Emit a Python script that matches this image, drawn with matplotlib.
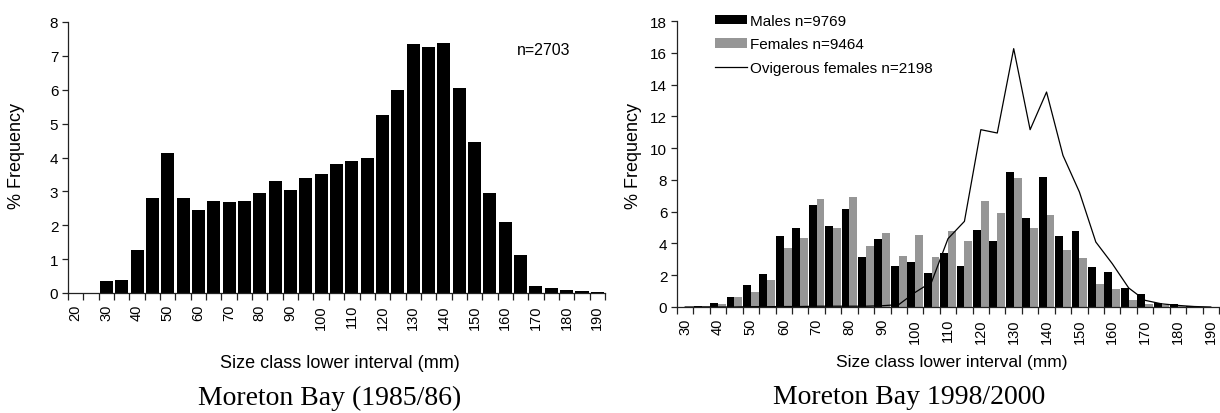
import matplotlib
matplotlib.use("Agg")
import matplotlib.pyplot as plt
from matplotlib.patches import Patch
from matplotlib.lines import Line2D

# Size classes (lower bound of each 5 mm interval)
size_1985 = list(range(20, 195, 5))
size_1998 = list(range(30, 195, 5))

# Moreton Bay 1985/86, % frequency per size class (n=2703)
pct_1985 = [0, 0, 0.34, 0.38, 1.27, 2.80, 4.12, 2.80, 2.46, 2.72, 2.69, 2.72,
            2.94, 3.32, 3.05, 3.39, 3.50, 3.80, 3.90, 3.98, 5.24, 5.98, 7.36,
            7.27, 7.39, 6.05, 4.45, 2.94, 2.09, 1.12, 0.20, 0.16, 0.09, 0.05,
            0.04]

# Moreton Bay 1998/2000, % frequency per size class
males = [0, 0.09, 0.23, 0.66, 1.37, 2.10, 4.46, 5.00, 6.45, 5.07, 6.15, 3.14,
         4.27, 2.55, 2.86, 2.11, 3.37, 2.56, 4.82, 4.17, 8.47, 5.62, 8.20, 4.49,
         4.80, 2.54, 2.22, 1.22, 0.84, 0.27, 0.17, 0.06, 0]
females = [0, 0.07, 0.16, 0.66, 0.97, 1.68, 3.69, 4.33, 6.78, 5.00, 6.91, 3.81,
           4.63, 3.24, 4.51, 3.12, 4.76, 4.17, 6.65, 5.94, 8.14, 4.99, 5.81,
           3.61, 3.10, 1.47, 1.11, 0.46, 0.19, 0.10, 0.06, 0.02, 0]
ovigerous = [0, 0, 0, 0, 0.02, 0.02, 0.03, 0.03, 0.05, 0.05, 0.05, 0.05, 0.08,
             0.15, 0.92, 1.57, 4.30, 5.39, 11.16, 10.95, 16.26, 11.16, 13.53,
             9.54, 7.24, 4.09, 2.73, 1.20, 0.42, 0.20, 0.10, 0.03, 0]

labels_left = ["n=2703"]
legend_labels = ["Males n=9769", "Females n=9464", "Ovigerous females n=2198"]
xlabel = "Size class lower interval (mm)"
ylabel = "% Frequency"
titles = ["Moreton Bay (1985/86)", "Moreton Bay 1998/2000"]

SANS = "Liberation Sans"
SERIF = "Liberation Serif"
GREY = "#969696"

plt.rcParams["font.family"] = [SANS, "DejaVu Sans"]

W, H = 1220, 414
fig = plt.figure(figsize=(W / 100, H / 100), dpi=100)


def px_axes(x0, x1, y_top, y_bot):
    return fig.add_axes([x0 / W, (H - y_bot) / H, (x1 - x0) / W, (y_bot - y_top) / H])


def style_axes(ax, sizes, ymax, ystep):
    n = len(sizes)
    ax.set_xlim(-0.5, n - 0.5)
    ax.set_ylim(0, ymax)
    for s in ("top", "right"):
        ax.spines[s].set_visible(False)
    for s in ("left", "bottom"):
        ax.spines[s].set_linewidth(0.9)
        ax.spines[s].set_color("#222222")
    ax.set_yticks(range(0, ymax + 1, ystep))
    ax.tick_params(axis="y", direction="out", length=4, width=0.9,
                   labelsize=11, pad=3, color="#222222")
    # category boundaries carry the tick marks
    ax.set_xticks([i - 0.5 for i in range(n + 1)])
    ax.set_xticklabels([])
    ax.tick_params(axis="x", which="major", direction="out", length=5,
                   width=0.9, color="#222222")
    # every other category centre carries a label
    centres = [i for i, s in enumerate(sizes) if s % 10 == 0]
    ax.set_xticks(centres, minor=True)
    ax.set_xticklabels([str(sizes[i]) for i in centres], minor=True,
                       rotation=90, fontsize=10.5)
    ax.tick_params(axis="x", which="minor", length=0, pad=8)


# Left panel
axL = px_axes(68, 605, 23, 294)
xL = list(range(len(size_1985)))
axL.bar(xL, pct_1985, width=0.85, color="black", edgecolor="none")
style_axes(axL, size_1985, 8, 1)
axL.text(30.5, 7.2, labels_left[0], fontsize=11.5, ha="center", va="center")

# Right panel
axR = px_axes(677, 1219, 22, 308)
xR = list(range(len(size_1998)))
axR.bar([x - 0.24 for x in xR], males, width=0.48, color="black", edgecolor="none")
axR.bar([x + 0.24 for x in xR], females, width=0.48, color=GREY, edgecolor="none")
axR.plot(xR, ovigerous, color="black", lw=0.9)
style_axes(axR, size_1998, 18, 2)

handles = [Patch(facecolor="black", edgecolor="none"),
           Patch(facecolor=GREY, edgecolor="none"),
           Line2D([], [], color="black", lw=0.9)]
fig.legend(handles, legend_labels, loc="upper left",
           bbox_to_anchor=(715 / W, 1 - 15 / H), frameon=False, fontsize=11,
           handlelength=2.1, handleheight=0.55, handletextpad=0.2,
           labelspacing=0.62, borderpad=0, borderaxespad=0)

# Axis titles
for x_c in (17, 633):
    fig.text(x_c / W, 1 - 156 / H, ylabel, rotation=90, fontsize=13,
             ha="center", va="center")
fig.text(340 / W, 1 - 364 / H, xlabel, fontsize=13, ha="center", va="center")
fig.text(952 / W, 1 - 363 / H, xlabel, fontsize=12.5, ha="center", va="center")

# Panel captions
fig.text(330 / W, 1 - 398 / H, titles[0], family=SERIF, fontsize=20,
         ha="center", va="center")
fig.text(909 / W, 1 - 398 / H, titles[1], family=SERIF, fontsize=20,
         ha="center", va="center")

fig.savefig("out.png", dpi=100, facecolor="white")
